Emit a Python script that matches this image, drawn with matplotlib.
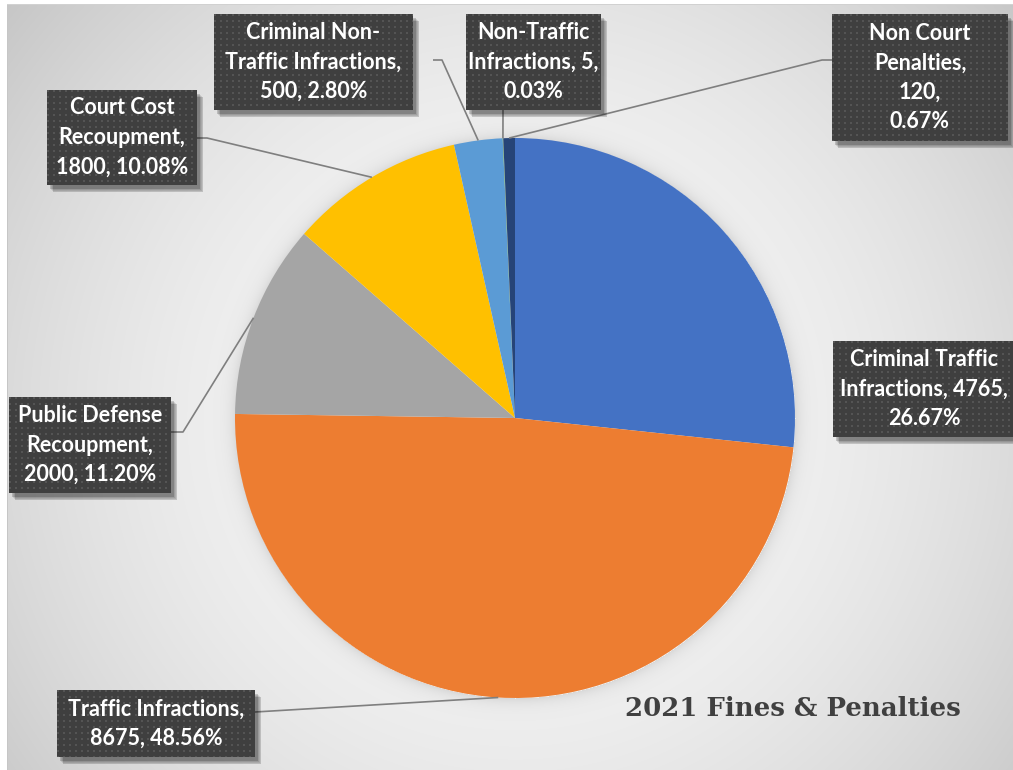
import numpy as np
import matplotlib.pyplot as plt
from matplotlib.patches import Rectangle

# 2021 fines & penalties by type
categories = ["Criminal Traffic Infractions", "Traffic Infractions",
              "Public Defense Recoupment", "Court Cost Recoupment",
              "Criminal Non-Traffic Infractions", "Non-Traffic Infractions",
              "Non Court Penalties"]
amounts = [4765, 8675, 2000, 1800, 500, 5, 120]
label_fmt = ["Criminal Traffic\nInfractions, {v},\n{p}",
             "Traffic Infractions,\n{v}, {p}",
             "Public Defense\nRecoupment,\n{v}, {p}",
             "Court Cost\nRecoupment,\n{v}, {p}",
             "Criminal Non-\nTraffic Infractions,\n{v}, {p}",
             "Non-Traffic\nInfractions, {v},\n{p}",
             "Non Court\nPenalties,\n{v},\n{p}"]
slice_colors = ["#4472C4", "#ED7D31", "#A5A5A5", "#FFC000",
                "#5B9BD5", "#70AD47", "#264478"]
title = "2021 Fines & Penalties"

W, H = 1013, 770
CX, CY, R = 515, 418, 280   # pie centre/radius in pixel coords (y down)


def Y(y):
    return H - y


# label boxes (x0, y0, x1, y1), pixel coords
boxes = [(833, 341, 1015, 437),
         (57, 690, 255, 757),
         (9, 397, 171, 493),
         (47, 90, 197, 185),
         (214, 14, 413, 110),
         (466, 14, 601, 110),
         (832, 14, 1008, 141)]
# leader line start + elbow, None = no leader
leaders = [None,
           [(255, 712)],
           [(171, 432), (183, 432)],
           [(197, 138), (207, 138)],
           [(433, 60), (442, 60)],
           [(503, 110)],
           [(832, 60), (822, 60)]]

fig = plt.figure(figsize=(W / 100, H / 100), dpi=100)
ax = fig.add_axes([0, 0, 1, 1])

# background: radial gradient + soft shadow round the pie
yy, xx = np.mgrid[0:H, 0:W]
d = np.hypot(xx - CX, yy - CY)
bg = 0.975 - 0.2 * (d / 660) ** 2
ring = d > R
bg[ring] -= 0.09 * np.exp(-(d[ring] - R) / 7)
bg = np.clip(bg, 0, 1)
bg[:, :7] = 1.0
bg[:4, :] = 1.0
bg[4:, 7] = 0.78
bg[4, 7:] = 0.82
ax.imshow(np.dstack([bg] * 3), extent=(0, W, 0, H), origin="upper",
          interpolation="bilinear", zorder=0)

total = sum(amounts)
wedges, _ = ax.pie(amounts, colors=slice_colors, startangle=90,
                   counterclock=False, center=(CX, Y(CY)), radius=R,
                   frame=True, wedgeprops=dict(linewidth=0))
for w in wedges:
    w.set_zorder(2)

# leader lines to the middle of each slice's arc
start = 90.0
for i, a in enumerate(amounts):
    sweep = 360.0 * a / total
    mid = np.radians(start - sweep / 2)
    start -= sweep
    if leaders[i] is None:
        continue
    ex = CX + R * np.cos(mid)
    ey = Y(CY) + R * np.sin(mid)
    pts = [(x, Y(y)) for x, y in leaders[i]] + [(ex, ey)]
    ax.plot([p[0] for p in pts], [p[1] for p in pts], color="#7f7f7f",
            lw=1.2, zorder=3, solid_capstyle="butt")

# dark dotted label boxes
for i, (x0, y0, x1, y1) in enumerate(boxes):
    for k in range(1, 7):
        ax.add_patch(Rectangle((x0 + 2 + k * 0.7, Y(y1) - 3 - k * 0.7),
                               x1 - x0, y1 - y0, facecolor="black",
                               alpha=0.09, lw=0, zorder=4))
    bw, bh = x1 - x0, y1 - y0
    jj, ii = np.meshgrid(np.arange(bw), np.arange(bh))
    tex = np.full((bh, bw), 0.25)
    tex[((ii % 6) < 2) & ((jj % 6) < 2)] = 0.33
    ax.imshow(np.dstack([tex] * 3), extent=(x0, x1, Y(y1), Y(y0)),
              origin="upper", interpolation="nearest", zorder=5)
    txt = label_fmt[i].format(v=amounts[i], p=f"{100 * amounts[i] / total:.2f}%")
    ax.text((x0 + x1) / 2, Y((y0 + y1) / 2), txt, ha="center", va="center",
            color="white", fontsize=15.5, fontweight="bold", family="Lato",
            linespacing=1.5, zorder=6)

ax.text(793, Y(709), title, ha="center", va="center", color="#404040",
        fontsize=18.7, fontweight="bold", family="DejaVu Serif", zorder=6)

ax.set_xlim(0, W)
ax.set_ylim(0, H)
ax.set_aspect("auto")
ax.axis("off")

fig.savefig("out.png", dpi=100)
